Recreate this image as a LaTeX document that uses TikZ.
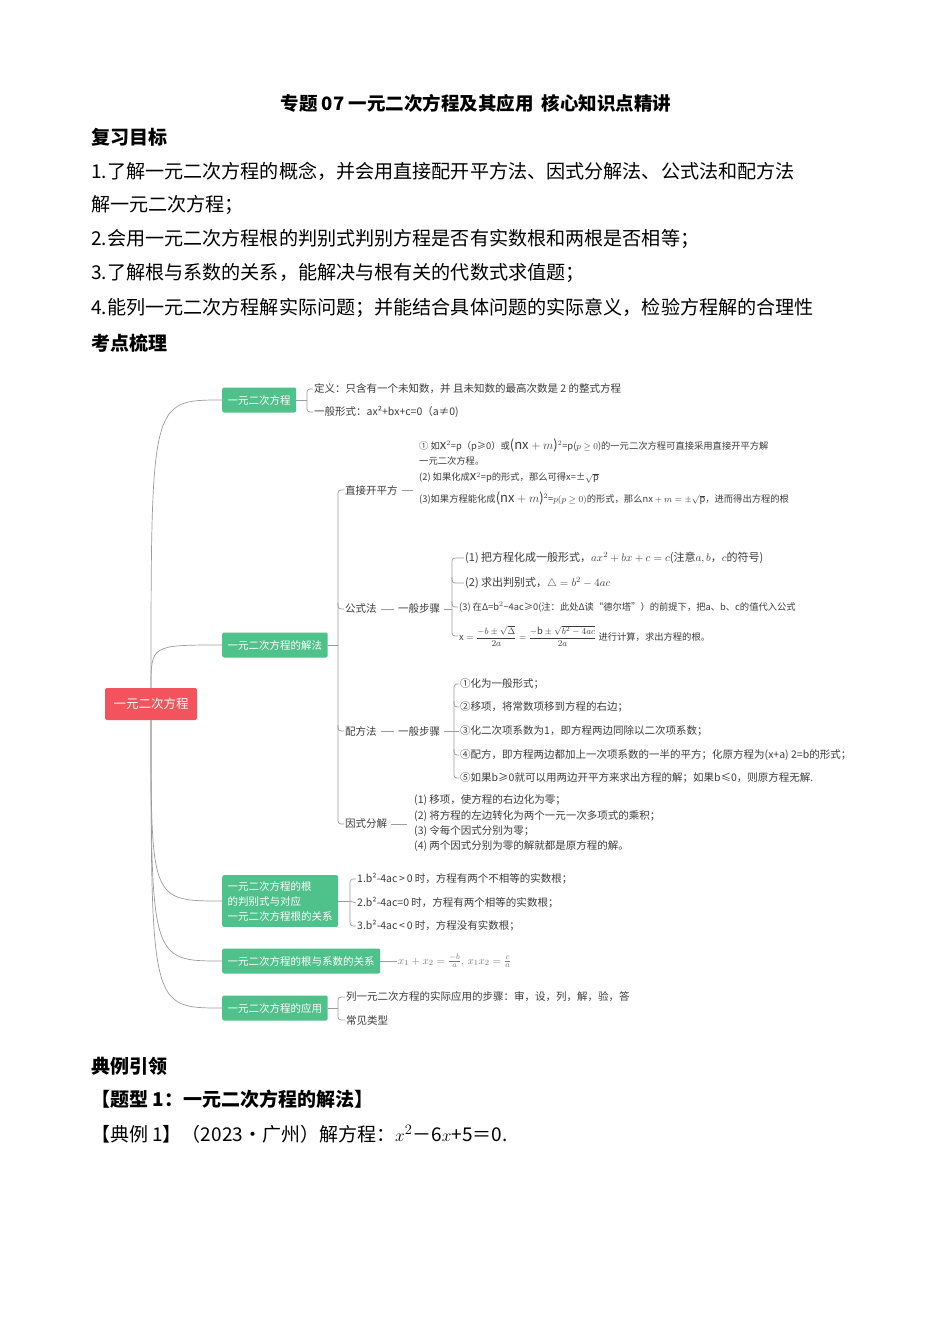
\documentclass[tikz,border=0pt]{standalone}
\usepackage{fontspec}
\setmainfont{Noto Sans CJK SC}
\usetikzlibrary{calc}
\definecolor{gbox}{HTML}{4FC18A}
\definecolor{rbox}{HTML}{F2535C}
\definecolor{lnk}{HTML}{9C9C9C}
\definecolor{mtxt}{HTML}{3C3C3C}
\definecolor{ftxt}{HTML}{777777}
\newcommand\fs[2]{\fontsize{#1pt}{#2pt}\selectfont}
\tikzset{
  link/.style={draw=lnk, line width=0.7pt},
  brk/.style={draw=lnk, line width=0.7pt, rounded corners=3pt},
  gnode/.style={fill=gbox, text=white, rounded corners=2pt, anchor=west, inner xsep=5.5pt, inner ysep=0pt, minimum height=25pt, font=\fs{10.5}{15}},
  item/.style={anchor=west, inner sep=1pt, text=mtxt, font=\fs{10.5}{13}},
  sitem/.style={anchor=west, inner sep=1pt, text=mtxt, font=\fs{9.3}{11}},
  tiny/.style={anchor=west, inner sep=1pt, text=mtxt, font=\fs{9.3}{11}},
  big/.style={anchor=west, inner sep=0pt, font=\fs{19.1}{22}},
  head/.style={anchor=west, inner sep=0pt, font=\bfseries\fs{19}{22}},
}
\begin{document}
\begin{tikzpicture}[x=1pt,y=-1pt]
\useasboundingbox[fill=white] (0,0) rectangle (950,1344);

% ---------- header text ----------
\node[font=\bfseries\fs{18.5}{22}, inner sep=0pt] (title) at (476,103) {专题 07 一元二次方程及其应用\ \ 核心知识点精讲};
\node[head] (h1) at (91,137) {复习目标};
\node[big] (t1) at (91,171) {1.了解一元二次方程的概念，并会用直接配开平方法、因式分解法、公式法和配方法};
\node[big] (t2) at (91,205) {解一元二次方程；};
\node[big] (t3) at (91,239) {2.会用一元二次方程根的判别式判别方程是否有实数根和两根是否相等；};
\node[big] (t4) at (91,273) {3.了解根与系数的关系，能解决与根有关的代数式求值题；};
\node[big] (t5) at (91,308) {4.能列一元二次方程解实际问题；并能结合具体问题的实际意义，检验方程解的合理性};
\node[head] (h2) at (91,343) {考点梳理};

% ---------- mind map: main nodes ----------
\node[fill=rbox, text=white, rounded corners=2pt, minimum width=92pt, minimum height=32pt, inner sep=0pt, font=\fs{12.5}{15}] (root) at (151,704) {一元二次方程};
\node[gnode] (b1) at (222,400) {一元二次方程};
\node[gnode] (b2) at (222,645) {一元二次方程的解法};
\node[gnode, align=left, inner ysep=6pt] (b3) at (222,901) {一元二次方程的根\\的判别式与对应\\一元二次方程根的关系};
\node[gnode] (b4) at (222,961) {一元二次方程的根与系数的关系};
\node[gnode] (b5) at (222,1008) {一元二次方程的应用};

\draw[link] (root.north) .. controls (root.north |- b1.west) .. (b1.west);
\draw[link] (root.north) .. controls (root.north |- b2.west) .. (b2.west);
\draw[link] (root.south) .. controls (root.south |- b3.west) .. (b3.west);
\draw[link] (root.south) .. controls (root.south |- b4.west) .. (b4.west);
\draw[link] (root.south) .. controls (root.south |- b5.west) .. (b5.west);

% ---------- branch 1 ----------
\node[item] (d1) at (313,389) {定义：只含有一个未知数，并 且未知数的最高次数是 2 的整式方程};
\node[item] (d2) at (313,412) {一般形式：ax²+bx+c=0（a≠0)};
\coordinate (s1) at (307,400);
\draw[link] (b1.east) -- (s1);
\draw[brk] (d1.west) -| (s1) |- (d2.west);

% ---------- branch 2 ----------
\node[item] (m1) at (344,490) {直接开平方};
\node[item] (m2) at (344,609) {公式法};
\node[item] (m3) at (344,731) {配方法};
\node[item] (m4) at (344,824) {因式分解};
\coordinate (s2) at (338,645);
\draw[link] (b2.east) -- (s2);
\draw[brk] (m1.west) -| (s2) |- (m4.west);
\draw[brk] ($(s2|-m2.west)+(0,-6)$) |- (m2.west);
\draw[brk] ($(s2|-m3.west)+(0,-6)$) |- (m3.west);

% direct square root
\coordinate (zimg) at (413,490);
\draw[link, shorten <=3pt] (m1.east) -- (zimg);
\node[sitem] (z1) at (418,445) {① 如{\fs{13}{13}$\mathrm{x}$}$^{2}$=p（p≥0）或{\fs{13}{13}($\mathrm{nx}+m$)}$^{2}$=p($p\geq0$)的一元二次方程可直接采用直接开平方解};
\node[sitem] (z2) at (418,461) {一元二次方程。};
\node[sitem] (z3) at (418,478) {(2) 如果化成{\fs{13}{13}$\mathrm{x}$}$^{2}$=p的形式，那么可得x=±$\sqrt{\mathrm{p}}$};
\node[sitem] (z4) at (418,498) {(3)如果方程能化成{\fs{13}{13}($\mathrm{nx}+m$)}$^{2}$=$p(p\geq0)$的形式，那么$\mathrm{nx}+m=\pm\sqrt{\mathrm{p}}$，进而得出方程的根};

% formula method
\node[item] (k1) at (397,609) {一般步骤};
\draw[link, shorten <=3pt, shorten >=3pt] (m2.east) -- (k1.west);
\coordinate (s3) at (452,609);
\draw[link, shorten <=3pt] (k1.east) -- (s3);
\node[item, font=\fs{11}{13}] (g1) at (464,558) {(1) 把方程化成一般形式，$ax^{2}+bx+c=c$(注意$a,b$，$c$的符号)};
\node[item, font=\fs{11}{13}] (g2) at (464,583) {(2) 求出判别式，$\triangle=b^{2}-4ac$};
\node[tiny] (g3) at (458,607) {(3) 在Δ=$\mathrm{b}^{2}$−4ac≥0(注：此处Δ读“德尔塔”）的前提下，把a、b、c的值代入公式};
\node[tiny] (g4) at (458,636) {$\mathrm{x}=\displaystyle\frac{-b\pm\sqrt{\Delta}}{2a}=\frac{-\mathrm{b}\pm\sqrt{b^{2}-4ac}}{2a}$ 进行计算，求出方程的根。};
\draw[brk] (g1.west) -| (s3) |- (g4.west);
\draw[brk] ($(s3|-g2.west)+(0,-6)$) |- (g2.west);
\draw[brk] ($(s3|-g3.west)+(0,-6)$) |- (g3.west);

% completing the square
\node[item] (k2) at (397,731) {一般步骤};
\draw[link, shorten <=3pt, shorten >=3pt] (m3.east) -- (k2.west);
\coordinate (s4) at (454,731);
\draw[link, shorten <=3pt] (k2.east) -- (s4);
\node[item] (p1) at (459,684) {①化为一般形式；};
\node[item] (p2) at (459,707) {②移项，将常数项移到方程的右边；};
\node[item] (p3) at (459,731) {③化二次项系数为1，即方程两边同除以二次项系数；};
\node[item] (p4) at (459,755) {④配方，即方程两边都加上一次项系数的一半的平方；化原方程为(x+a)\ 2=b的形式；};
\node[item] (p5) at (459,778) {⑤如果b≥0就可以用两边开平方来求出方程的解；如果b≤0，则原方程无解.};
\draw[brk] (p1.west) -| (s4) |- (p5.west);
\draw[brk] ($(s4|-p2.west)+(0,-6)$) |- (p2.west);
\draw[link] (s4) -- (p3.west);
\draw[brk] ($(s4|-p4.west)+(0,-6)$) |- (p4.west);

% factoring
\coordinate (fimg) at (407,824);
\draw[link, shorten <=3pt] (m4.east) -- (fimg);
\node[item] (f1) at (413,800) {(1) 移项，使方程的右边化为零；};
\node[item] (f2) at (413,816) {(2) 将方程的左边转化为两个一元一次多项式的乘积；};
\node[item] (f3) at (413,831) {(3) 令每个因式分别为零；};
\node[item] (f4) at (413,846) {(4) 两个因式分别为零的解就都是原方程的解。};

% ---------- branch 3 ----------
\node[item] (r1) at (356,879) {1.b²-4ac\,>\,0 时，方程有两个不相等的实数根；};
\node[item] (r2) at (356,903) {2.b²-4ac=0 时，方程有两个相等的实数根；};
\node[item] (r3) at (356,926) {3.b²-4ac\,<\,0 时，方程没有实数根；};
\coordinate (s5) at (350,901);
\draw[link] (b3.east) -- (s5);
\draw[brk] (r1.west) -| (s5) |- (r3.west);
\draw[link] (s5) -- (r2.west);

% ---------- branch 4 ----------
\node[anchor=west, inner sep=1pt, text=ftxt, font=\fs{11}{13}] (q) at (397,961) {$x_1+x_2=\frac{-b}{a},\,x_1x_2=\frac{c}{a}$};
\draw[link] (b4.east) -- (q.west);

% ---------- branch 5 ----------
\node[item] (a1) at (345,997) {列一元二次方程的实际应用的步骤：审，设，列，解，验，答};
\node[item] (a2) at (345,1020) {常见类型};
\coordinate (s6) at (338,1008);
\draw[link] (b5.east) -- (s6);
\draw[brk] (a1.west) -| (s6) |- (a2.west);

% ---------- footer text ----------
\node[head] (h3) at (91,1066) {典例引领};
\node[head] (h4) at (91,1099) {【题型 1：一元二次方程的解法】};
\node[anchor=west, inner sep=0pt, font=\fs{19}{22}] (ex) at (91,1134) {【典例 1】（2023•广州）解方程：$x^{2}$－6$x$+5＝0.};
\end{tikzpicture}
\end{document}
